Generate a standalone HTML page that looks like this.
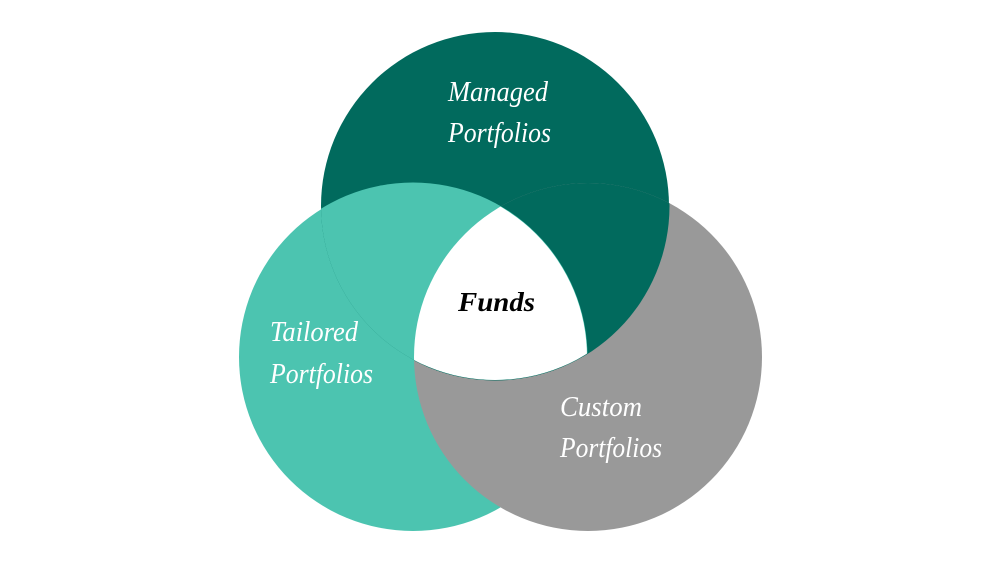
<!DOCTYPE html>
<html><head><style>body{margin:0;background:#fff}svg{display:block}</style></head><body>
<svg width="1000" height="563" viewBox="0 0 1000 563" xmlns="http://www.w3.org/2000/svg">
<defs>
<clipPath id="cR"><circle cx="588" cy="357" r="174"/></clipPath>
<clipPath id="cT"><circle cx="495" cy="206" r="174"/></clipPath>
<clipPath id="cL"><circle cx="413" cy="357" r="174"/></clipPath>
</defs>
<circle cx="413" cy="357" r="174" fill="#4CC4B0"/>
<circle cx="495" cy="206" r="174" fill="#016A5D"/>
<circle cx="588" cy="357" r="174" fill="#999999"/>
<g clip-path="url(#cR)"><circle cx="495" cy="206" r="174.5" fill="#016A5D"/></g>
<g clip-path="url(#cT)"><circle cx="413" cy="357" r="174.5" fill="#4CC4B0"/></g>
<g clip-path="url(#cT)"><g clip-path="url(#cL)"><circle cx="588" cy="357" r="174" fill="#fff"/></g></g>
<g font-family="Liberation Serif, serif" font-style="italic" font-size="29" fill="#fff" lengthAdjust="spacingAndGlyphs">
<text x="448" y="101" textLength="100" lengthAdjust="spacingAndGlyphs">Managed</text>
<text x="448" y="142" textLength="103" lengthAdjust="spacingAndGlyphs">Portfolios</text>
<text x="270" y="341" textLength="88" lengthAdjust="spacingAndGlyphs">Tailored</text>
<text x="270" y="383" textLength="103" lengthAdjust="spacingAndGlyphs">Portfolios</text>
<text x="560" y="416" textLength="82" lengthAdjust="spacingAndGlyphs">Custom</text>
<text x="560" y="457" textLength="102" lengthAdjust="spacingAndGlyphs">Portfolios</text>
</g>
<text x="458" y="311" font-family="Liberation Serif, serif" font-style="italic" font-weight="bold" font-size="27" fill="#000" textLength="77" lengthAdjust="spacingAndGlyphs">Funds</text>
</svg>
</body></html>
